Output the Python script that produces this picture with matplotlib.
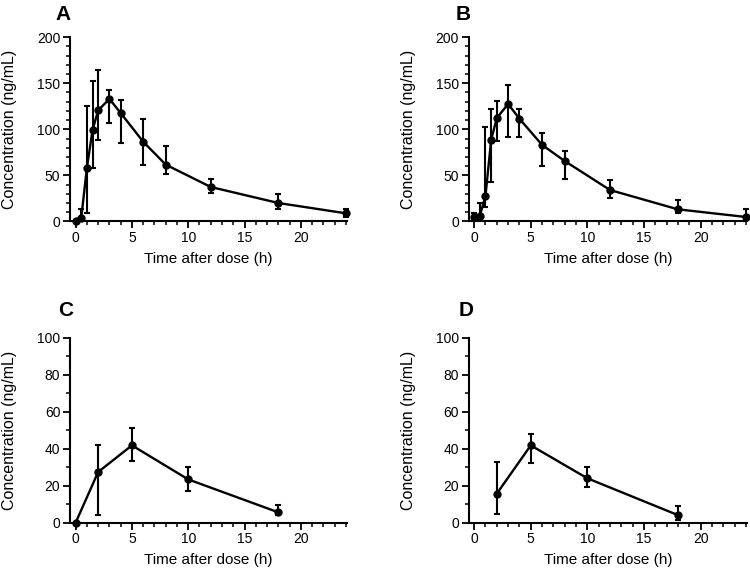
import matplotlib
matplotlib.use("Agg")
import matplotlib.pyplot as plt
import numpy as np
from matplotlib.ticker import MultipleLocator

plt.rcParams['font.family'] = ['Liberation Sans', 'DejaVu Sans']

# Panel A
time_a = [0, 0.5, 1, 1.5, 2, 3, 4, 6, 8, 12, 18, 24]
mean_a = [0, 3.9, 58, 99, 120.6, 133, 117.7, 86.5, 61.6, 37.3, 19.9, 8.7]
upper_a = [0, 13.7, 125.7, 152, 164.5, 142.4, 132.2, 111.5, 82.2, 46.3, 29.7, 13.7]
lower_a = [0, 0, 9.4, 58.3, 88.7, 106.8, 84.8, 61.6, 51, 30.4, 13.7, 5]

# Panel B
time_b = [0, 0.5, 1, 1.5, 2, 3, 4, 6, 8, 12, 18, 24]
mean_b = [4.5, 6.1, 27.7, 88.4, 112.3, 127.5, 111.5, 83, 65.5, 34, 13, 4.7]
upper_b = [8.7, 19.9, 102.9, 122.5, 130.4, 147.8, 122.4, 96, 76, 44.5, 23.2, 13.4]
lower_b = [3.3, 6.1, 15.2, 42.4, 87.3, 92, 91.3, 60, 46, 25.3, 9.4, 4.7]

# Panel C
time_c = [0, 2, 5, 10, 18]
mean_c = [0, 27.4, 41.8, 23.4, 5.6]
upper_c = [0, 41.8, 51.2, 29.9, 9.6]
lower_c = [0, 4.0, 33.4, 16.9, 4.0]

# Panel D
time_d = [2, 5, 10, 18]
mean_d = [15.7, 41.8, 24.0, 4.1]
upper_d = [32.6, 47.9, 30.3, 9.0]
lower_d = [4.8, 32.3, 19.3, 1.4]

panel_letters = ['A', 'B', 'C', 'D']
xlabel = 'Time after dose (h)'
ylabel = 'Concentration (ng/mL)'

W, H = 750, 570
fig = plt.figure(figsize=(7.5, 5.7), dpi=100)

def rect(l, r, t, b):
    return [l / W, 1 - b / H, (r - l) / W, (b - t) / H]

axes_rects = [rect(70, 347, 37.3, 221.3), rect(468.5, 747, 37.3, 221.3),
              rect(70, 347, 337.7, 522.7), rect(468.5, 747, 337.7, 522.7)]

datasets = [(time_a, mean_a, upper_a, lower_a, 200, 50),
            (time_b, mean_b, upper_b, lower_b, 200, 50),
            (time_c, mean_c, upper_c, lower_c, 100, 20),
            (time_d, mean_d, upper_d, lower_d, 100, 20)]

letter_pos = [(63, 15), (463, 15), (66, 310), (466, 310)]
ylabel_x = [10, 409, 10, 409]

for i, (r, ds) in enumerate(zip(axes_rects, datasets)):
    t, m, u, lo, ymax, ymaj = ds
    ax = fig.add_axes(r)
    m = np.array(m); u = np.array(u); lo = np.array(lo)
    yerr = [m - lo, u - m]
    ax.errorbar(t, m, yerr=yerr, color='black', lw=1.7, elinewidth=1.5,
                capsize=2.5, capthick=1.5, marker='o', markersize=5,
                clip_on=False, zorder=3)
    ax.set_xlim(-0.5, 24.1)
    ax.set_ylim(0, ymax)
    ax.xaxis.set_major_locator(MultipleLocator(5))
    ax.xaxis.set_minor_locator(MultipleLocator(1))
    ax.yaxis.set_major_locator(MultipleLocator(ymaj))
    ax.yaxis.set_minor_locator(MultipleLocator(10))
    for s in ['top', 'right']:
        ax.spines[s].set_visible(False)
    for s in ['left', 'bottom']:
        ax.spines[s].set_linewidth(1.5)
    ax.tick_params(which='major', length=5, width=1.3, labelsize=10, pad=2)
    ax.tick_params(which='minor', length=3, width=1.1)
    ax.set_xlabel(xlabel, fontsize=11, labelpad=5)
    ax.set_ylabel(ylabel, fontsize=11.5, va='center')
    ax.yaxis.set_label_coords(ylabel_x[i] / W, r[1] + r[3] / 2, transform=fig.transFigure)
    lx, ly = letter_pos[i]
    fig.text(lx / W, 1 - ly / H, panel_letters[i], fontsize=15, fontweight='bold',
             ha='center', va='center')

fig.savefig('out.png', dpi=100)
